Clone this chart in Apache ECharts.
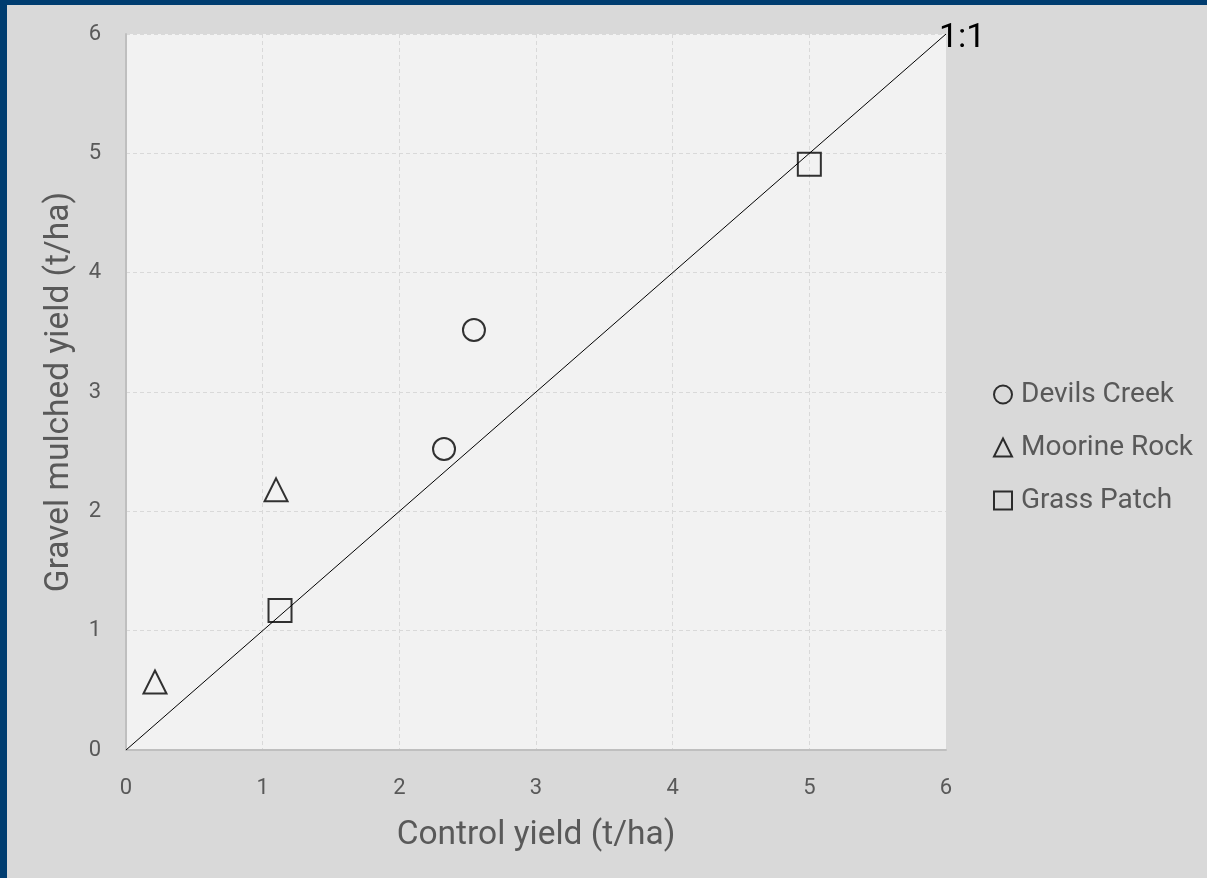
<!DOCTYPE html>
<html>
<head>
<meta charset="utf-8">
<script src="https://cdn.jsdelivr.net/npm/echarts@6/dist/echarts.min.js"></script>
<style>
html,body{margin:0;padding:0;background:#003d70;width:1207px;height:878px;overflow:hidden;}
#chart{position:absolute;left:7px;top:5px;width:1200px;height:873px;background:#d9d9d9;}
</style>
</head>
<body>
<div id="chart"></div>
<script>
const seriesNames = ['Devils Creek', 'Moorine Rock', 'Grass Patch'];
const devilsCreek = [[2.546, 3.52], [2.327, 2.522]];
const moorineRock = [[0.212, 0.57], [1.098, 2.18]];
const grassPatch = [[1.127, 1.169], [5.0, 4.908]];
const oneToOne = [[0, 0], [6, 6]];
const oneToOneLabel = '1:1';
const xTitle = 'Control yield (t/ha)';
const yTitle = 'Gravel mulched yield (t/ha)';

const FONT = 'Roboto';
const chart = echarts.init(document.getElementById('chart'));
const markerStyle = {color: 'rgba(0,0,0,0)', borderColor: '#000', borderWidth: 2};

chart.setOption({
  backgroundColor: '#d9d9d9',
  animation: false,
  textStyle: {fontFamily: FONT},
  grid: {left: 119, top: 29, right: 261, bottom: 128, show: true, backgroundColor: '#f2f2f2', borderWidth: 0},
  legend: {
    orient: 'vertical', left: 981, top: 370,
    itemWidth: 18, itemHeight: 18, itemGap: 24,
    textStyle: {fontFamily: FONT, fontSize: 28, lineHeight: 29, color: '#595959', padding: [0,0,0,4]},
    data: [
      {name: seriesNames[0], icon: 'circle'},
      {name: seriesNames[1], icon: 'triangle'},
      {name: seriesNames[2], icon: 'rect'}
    ]
  },
  xAxis: {
    type: 'value', min: 0, max: 6, interval: 1,
    name: xTitle, nameLocation: 'middle', nameGap: 69,
    nameTextStyle: {fontFamily: FONT, fontSize: 33.5, color: '#595959'},
    axisLine: {show: true, onZero: false, lineStyle: {color: '#bfbfbf', width: 2}},
    axisTick: {show: false},
    axisLabel: {margin: 27, fontSize: 22, color: '#595959', fontFamily: FONT},
    splitLine: {show: true, lineStyle: {color: '#d9d9d9', type: [4, 3], width: 1}}
  },
  yAxis: {
    type: 'value', min: 0, max: 6, interval: 1,
    name: yTitle, nameLocation: 'middle', nameGap: 49, nameRotate: 90,
    nameTextStyle: {fontFamily: FONT, fontSize: 33.5, color: '#595959'},
    axisLine: {show: true, onZero: false, lineStyle: {color: '#bfbfbf', width: 2}},
    axisTick: {show: false},
    axisLabel: {margin: 25, fontSize: 22, color: '#595959', fontFamily: FONT},
    splitLine: {show: true, lineStyle: {color: '#d9d9d9', type: [4, 3], width: 1}}
  },
  series: [
    {
      name: '1:1 line', type: 'line', data: oneToOne,
      showSymbol: false, symbol: 'none', silent: true,
      lineStyle: {color: '#000', width: 1}, z: 1,
      endLabel: {show: true, formatter: oneToOneLabel, distance: -7, offset: [0, 4], fontSize: 34, color: '#000', fontFamily: FONT}
    },
    {name: seriesNames[0], type: 'scatter', data: devilsCreek, symbol: 'circle', symbolSize: 22, itemStyle: markerStyle, z: 3},
    {name: seriesNames[1], type: 'scatter', data: moorineRock, symbol: 'triangle', symbolSize: [23, 23], itemStyle: markerStyle, z: 3},
    {name: seriesNames[2], type: 'scatter', data: grassPatch, symbol: 'rect', symbolSize: 23, itemStyle: markerStyle, z: 3}
  ]
});
</script>
</body>
</html>
